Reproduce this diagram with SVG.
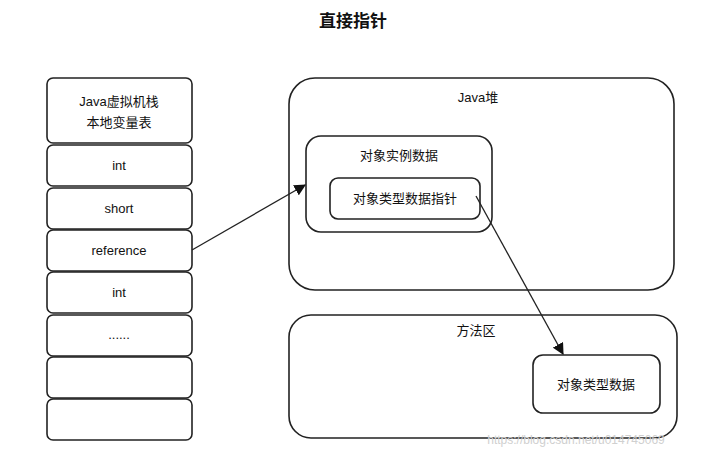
<svg xmlns="http://www.w3.org/2000/svg" width="706" height="458" viewBox="0 0 706 458">
<style>
.b{fill:#fff;stroke:#222;stroke-width:1.6}
.t{font-family:"Liberation Sans","Noto Sans CJK SC",sans-serif;font-size:13px;fill:#111;text-anchor:middle}
.c{stroke:#222;stroke-width:1.3;fill:none;marker-end:url(#a)}
</style>
<defs><marker id="a" viewBox="0 0 10 10" refX="9" refY="5" markerWidth="9" markerHeight="9" orient="auto"><path d="M0,0L10,5L0,10z" fill="#111"/></marker></defs>
<rect width="706" height="458" fill="#fff"/>
<text x="353" y="27" class="t" style="font-size:17px;font-weight:bold">直接指针</text>
<g id="stack">
<rect class="b" x="47" y="78" width="145" height="65" rx="6"/>
<text class="t" x="119" y="106">Java虚拟机栈</text><text class="t" x="119" y="127">本地变量表</text>
<rect class="b" x="47" y="145" width="145" height="41" rx="6"/><text class="t" x="119" y="170">int</text>
<rect class="b" x="47" y="188" width="145" height="41" rx="6"/><text class="t" x="119" y="213">short</text>
<rect class="b" x="47" y="230" width="145" height="41" rx="6"/><text class="t" x="119" y="255">reference</text>
<rect class="b" x="47" y="272" width="145" height="41" rx="6"/><text class="t" x="119" y="297">int</text>
<rect class="b" x="47" y="315" width="145" height="41" rx="6"/><text class="t" x="119" y="339">......</text>
<rect class="b" x="47" y="357" width="145" height="41" rx="6"/>
<rect class="b" x="47" y="399" width="145" height="41" rx="6"/>
</g>
<g id="heap">
<rect class="b" x="289" y="78" width="385" height="212" rx="26"/>
<text class="t" x="478" y="102">Java堆</text>
</g>
<g id="instance">
<rect class="b" x="306" y="136" width="186" height="96" rx="15"/>
<text class="t" x="399" y="160">对象实例数据</text>
</g>
<g id="pointer">
<rect class="b" x="330" y="178" width="150" height="41" rx="8"/>
<text class="t" x="405" y="203">对象类型数据指针</text>
</g>
<g id="method">
<rect class="b" x="289" y="315" width="388" height="123" rx="22"/>
<text class="t" x="476" y="335">方法区</text>
</g>
<g id="typedata">
<rect class="b" x="533" y="355" width="127" height="58" rx="10"/>
<text class="t" x="596" y="389">对象类型数据</text>
</g>
<g id="connectors">
<path class="c" d="M192,250L305,185"/>
<path class="c" d="M476,196L563,354"/>
</g>
<text x="576" y="444" style="font-family:'Liberation Sans',sans-serif;font-size:12px;fill:#d0d0d0;text-anchor:middle">https://blog.csdn.net/u014745069</text>
</svg>
